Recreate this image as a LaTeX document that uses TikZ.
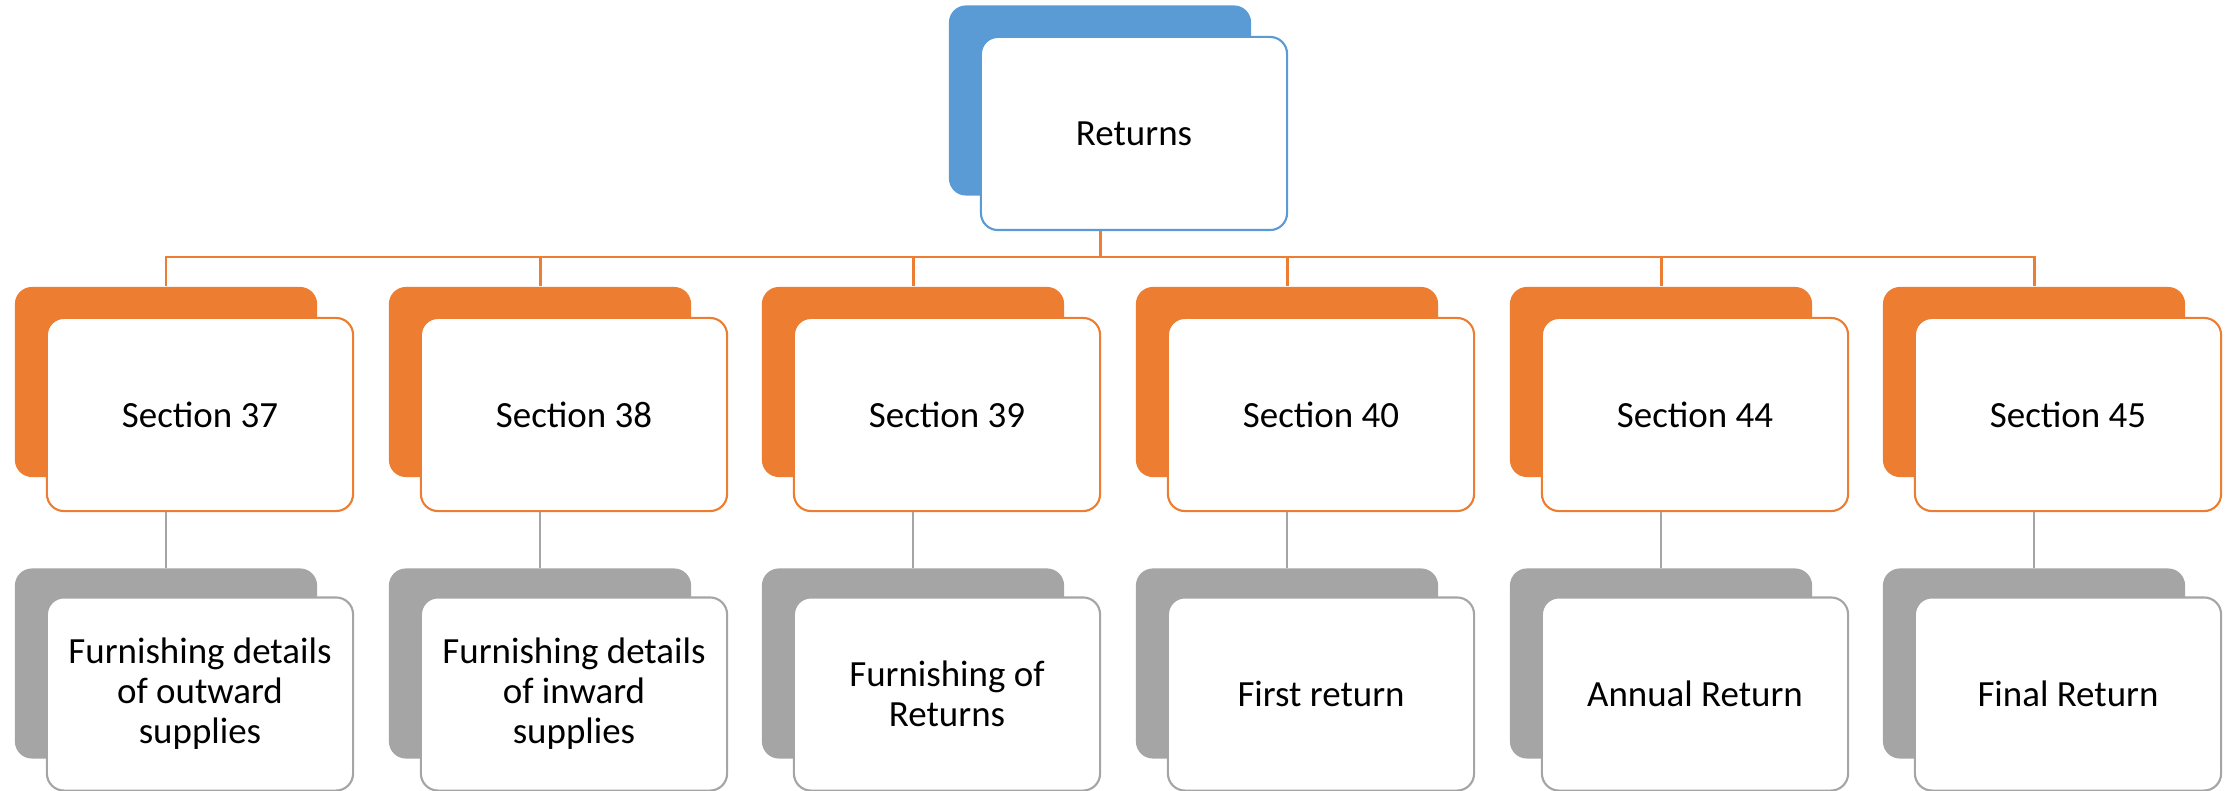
\documentclass[tikz,border=0pt]{standalone}
\usepackage{fontspec}
\setmainfont{Carlito}
\usetikzlibrary{positioning}
\definecolor{rblue}{HTML}{5B9BD5}
\definecolor{rorange}{HTML}{ED7D31}
\definecolor{rgrey}{HTML}{A5A5A5}
\tikzset{
  backbox/.style={fill=#1, rounded corners=0.17cm, minimum width=3.02cm, minimum height=1.9cm, inner sep=0pt},
  frontbox/.style={draw=#1, fill=white, line width=0.6pt, rounded corners=0.17cm, minimum width=3.06cm, minimum height=1.93cm, inner sep=0pt, align=center, font=\fontsize{10.5}{11.4}\selectfont},
  orangeline/.style={draw=rorange, line width=0.85pt},
  greyline/.style={draw=rgrey, line width=0.6pt}
}
\begin{document}
\begin{tikzpicture}[x=0.01cm,y=-0.01cm]
\useasboundingbox (0,0) rectangle (2233,791);
% top
\node[backbox=rblue] (ret-back) at (1100,100.5) {};
\node[frontbox=rblue] (ret) at (1134,133.5) {Returns};
\coordinate (bus) at (1100,257);
% sections
\node[backbox=rorange] (s37-back) at (166,382) {};
\node[frontbox=rorange] (s37) at (200,414.5) {Section 37};
\node[backbox=rorange] (s38-back) at (540,382) {};
\node[frontbox=rorange] (s38) at (574,414.5) {Section 38};
\node[backbox=rorange] (s39-back) at (913,382) {};
\node[frontbox=rorange] (s39) at (947,414.5) {Section 39};
\node[backbox=rorange] (s40-back) at (1287,382) {};
\node[frontbox=rorange] (s40) at (1321,414.5) {Section 40};
\node[backbox=rorange] (s44-back) at (1661,382) {};
\node[frontbox=rorange] (s44) at (1695,414.5) {Section 44};
\node[backbox=rorange] (s45-back) at (2034,382) {};
\node[frontbox=rorange] (s45) at (2068,414.5) {Section 45};
% details
\node[backbox=rgrey] (d37-back) at (166,663.5) {};
\node[frontbox=rgrey] (d37) at (200,694) {Furnishing details\\of outward\\supplies};
\node[backbox=rgrey] (d38-back) at (540,663.5) {};
\node[frontbox=rgrey] (d38) at (574,694) {Furnishing details\\of inward\\supplies};
\node[backbox=rgrey] (d39-back) at (913,663.5) {};
\node[frontbox=rgrey] (d39) at (947,694) {Furnishing of\\Returns};
\node[backbox=rgrey] (d40-back) at (1287,663.5) {};
\node[frontbox=rgrey] (d40) at (1321,694) {First return};
\node[backbox=rgrey] (d44-back) at (1661,663.5) {};
\node[frontbox=rgrey] (d44) at (1695,694) {Annual Return};
\node[backbox=rgrey] (d45-back) at (2034,663.5) {};
\node[frontbox=rgrey] (d45) at (2068,694) {Final Return};
% connectors
\draw[orangeline] (ret.south -| ret-back.south) -- (bus);
\draw[orangeline] (bus) -| (s37-back.north);
\draw[orangeline] (bus) -| (s38-back.north);
\draw[orangeline] (bus) -| (s39-back.north);
\draw[orangeline] (bus) -| (s40-back.north);
\draw[orangeline] (bus) -| (s44-back.north);
\draw[orangeline] (bus) -| (s45-back.north);
\draw[greyline] (s37.south -| s37-back.south) -- (d37-back.north);
\draw[greyline] (s38.south -| s38-back.south) -- (d38-back.north);
\draw[greyline] (s39.south -| s39-back.south) -- (d39-back.north);
\draw[greyline] (s40.south -| s40-back.south) -- (d40-back.north);
\draw[greyline] (s44.south -| s44-back.south) -- (d44-back.north);
\draw[greyline] (s45.south -| s45-back.south) -- (d45-back.north);
\end{tikzpicture}
\end{document}
